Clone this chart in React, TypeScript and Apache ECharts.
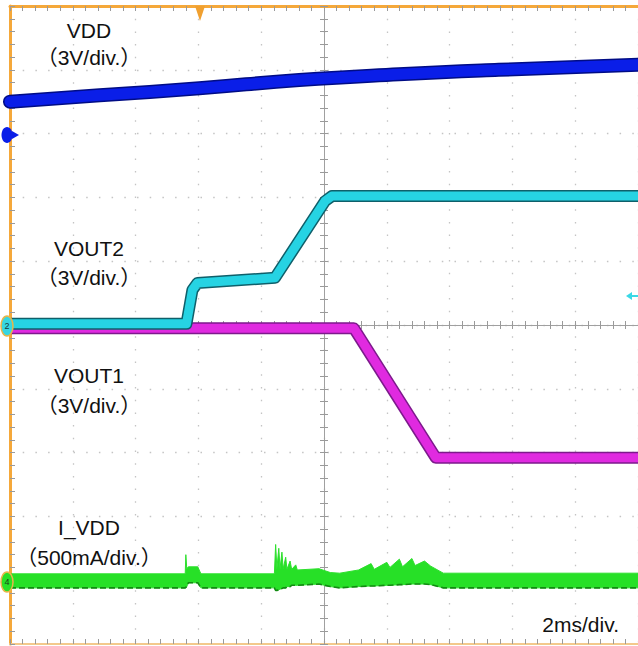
import React, { useEffect, useRef } from "react";
import * as echarts from "echarts";

// time in ms (2 ms/div, 10 divisions); amplitude in divisions from screen centre
const vddTime = [0, 2.86, 6.03, 9.21, 12.38, 15.56, 20];
const vddValue = [3.5, 3.6, 3.71, 3.84, 3.93, 4.0, 4.08];

const vout2Time = [0, 5.62, 5.81, 5.97, 8.44, 10.03, 10.25, 20];
const vout2Value = [0.02, 0.02, 0.55, 0.66, 0.74, 1.94, 2.02, 2.02];

const vout1Time = [0, 10.95, 13.56, 20];
const vout1Value = [-0.05, -0.05, -2.08, -2.08];

const ivddTime = [0, 5.58, 5.6, 5.63, 5.68, 5.98, 6.08, 8.42, 8.46, 8.5, 8.56, 8.6, 8.66, 8.7, 8.78, 8.82, 8.92, 8.97, 9.1, 9.15, 9.84, 10.2, 10.5, 11.1, 11.5, 11.6, 12.0, 12.1, 12.4, 12.5, 12.8, 12.9, 13.2, 13.4, 13.8, 20];
const ivddLower = [-4.12, -4.12, -4.12, -4.1, -4.04, -4.04, -4.12, -4.12, -4.16, -4.16, -4.15, -4.14, -4.13, -4.12, -4.12, -4.1, -4.1, -4.08, -4.08, -4.08, -4.06, -4.1, -4.12, -4.1, -4.09, -4.09, -4.08, -4.08, -4.07, -4.07, -4.06, -4.06, -4.06, -4.07, -4.12, -4.12];
const ivddUpper = [-3.9, -3.9, -3.6, -3.82, -3.79, -3.79, -3.9, -3.9, -3.44, -3.82, -3.5, -3.82, -3.56, -3.82, -3.64, -3.83, -3.7, -3.83, -3.76, -3.84, -3.82, -3.88, -3.89, -3.84, -3.74, -3.83, -3.72, -3.8, -3.67, -3.79, -3.66, -3.77, -3.7, -3.78, -3.89, -3.89];

const labels = [
  { name: "VDD", scale: "（3V/div.）" },
  { name: "VOUT2", scale: "（3V/div.）" },
  { name: "VOUT1", scale: "（3V/div.）" },
  { name: "I_VDD", scale: "（500mA/div.）" },
];
const timeScale = "2ms/div.";

const FONT = '"Liberation Sans", Arial, "Noto Sans CJK JP", sans-serif';

const zip = (xs: number[], ys: number[]) => xs.map((x, i) => [x, ys[i]]);

const tickStyle = { color: "#9a9a9a", width: 1 };
const gridDots = { color: "#c4c4c4", width: 1.3, type: [1.5, 11.2] as any };

function xAxisBase(extra: any) {
  return {
    type: "value",
    min: 0,
    max: 20,
    interval: 2,
    axisLabel: { show: false },
    splitLine: { show: false },
    axisTick: { show: true, inside: true, length: 5, lineStyle: tickStyle },
    minorTick: { show: true, splitNumber: 5, length: 5, lineStyle: tickStyle },
    ...extra,
  };
}
function yAxisBase(extra: any) {
  return {
    type: "value",
    min: -5,
    max: 5,
    interval: 1,
    axisLabel: { show: false },
    splitLine: { show: false },
    axisTick: { show: true, inside: true, length: 5, lineStyle: tickStyle },
    minorTick: { show: true, splitNumber: 5, length: 5, lineStyle: tickStyle },
    ...extra,
  };
}

function band(data: number[][], color: string, dark: string, w: number, smooth = false) {
  return [
    {
      type: "line",
      data,
      symbol: "none",
      smooth,
      lineStyle: { color: dark, width: w + 3, join: "round", cap: "round" },
      silent: true,
    },
    {
      type: "line",
      data,
      symbol: "none",
      smooth,
      lineStyle: { color, width: w, join: "round", cap: "round" },
      silent: true,
    },
  ];
}

export default function App() {
  const ref = useRef<HTMLDivElement>(null);
  useEffect(() => {
    document.body.style.margin = "0";
    const chart = echarts.init(ref.current!, null, { renderer: "svg" });
    const option: any = {
      animation: false,
      backgroundColor: "#ffffff",
      grid: { left: 10, top: 6, width: 630, height: 638, containLabel: false },
      xAxis: [
        xAxisBase({
          position: "bottom",
          axisLine: { show: true, onZero: false, lineStyle: { color: "#f3c98c", width: 2 } },
          splitLine: { show: true, showMinLine: false, lineStyle: gridDots },
        }),
        xAxisBase({
          position: "top",
          axisLine: { show: true, onZero: false, lineStyle: { color: "#f5a83a", width: 3 } },
        }),
        xAxisBase({
          position: "bottom",
          axisLine: { show: true, onZero: true, onZeroAxisIndex: 0, lineStyle: { color: "#a0a0a0", width: 1 } },
          axisTick: { show: true, inside: true, length: 4, lineStyle: tickStyle },
          minorTick: { show: true, splitNumber: 5, length: 4, lineStyle: tickStyle },
        }),
        xAxisBase({
          position: "top",
          axisLine: { show: true, onZero: true, onZeroAxisIndex: 0, lineStyle: { color: "#a0a0a0", width: 1 } },
          axisTick: { show: true, inside: true, length: 4, lineStyle: tickStyle },
          minorTick: { show: true, splitNumber: 5, length: 4, lineStyle: tickStyle },
        }),
        { type: "value", min: -10, max: 10, interval: 2, show: false },
      ],
      yAxis: [
        yAxisBase({
          position: "left",
          axisLine: { show: true, onZero: false, lineStyle: { color: "#f5a83a", width: 3 } },
          splitLine: { show: true, showMinLine: false, showMaxLine: false, lineStyle: gridDots },
        }),
        yAxisBase({
          position: "left",
          axisLine: { show: true, onZero: true, onZeroAxisIndex: 4, lineStyle: { color: "#a0a0a0", width: 1 } },
          axisTick: { show: true, inside: true, length: 4, lineStyle: tickStyle },
          minorTick: { show: true, splitNumber: 5, length: 4, lineStyle: tickStyle },
        }),
        yAxisBase({
          position: "right",
          axisLine: { show: true, onZero: true, onZeroAxisIndex: 4, lineStyle: { color: "#a0a0a0", width: 1 } },
          axisTick: { show: true, inside: true, length: 4, lineStyle: tickStyle },
          minorTick: { show: true, splitNumber: 5, length: 4, lineStyle: tickStyle },
        }),
      ],
      series: [
        ...band(zip(vout1Time, vout1Value), "#e02ae0", "#7d1a8c", 9),
        ...band(zip(vout2Time, vout2Value), "#26d3e3", "#0f5f6a", 9),
        ...band(zip(vddTime, vddValue), "#0a1ee8", "#000c85", 11, true),
        {
          type: "custom",
          data: ivddTime.map((t, i) => [t, ivddLower[i], ivddUpper[i]]),
          encode: { x: 0, y: [1, 2] },
          clip: true,
          silent: true,
          renderItem: (params: any, api: any) => {
            if (params.dataIndex !== 0) return null;
            const top = ivddTime.map((t, i) => api.coord([t, ivddUpper[i]]));
            const bottom = ivddTime.map((t, i) => api.coord([t, ivddLower[i]])).reverse();
            return {
              type: "polygon",
              shape: { points: top.concat(bottom) },
              style: { fill: "#27e027", stroke: "#2ee02e", lineWidth: 1 },
            };
          },
        },
        {
          type: "line",
          data: zip(ivddTime, ivddLower),
          symbol: "none",
          lineStyle: { color: "#138a13", width: 1.6, type: [6, 3] },
          silent: true,
        },
      ],
      graphic: [
        // channel markers
        { type: "ellipse", shape: { cx: 7, cy: 135, rx: 5.5, ry: 8 }, style: { fill: "#0a1ee8" }, z: 100 },
        { type: "polygon", shape: { points: [[12, 131], [19, 135], [12, 139]] }, style: { fill: "#0a1ee8" }, z: 100 },
        { type: "ellipse", shape: { cx: 7, cy: 326, rx: 6, ry: 10 }, style: { fill: "#36d6e2", stroke: "#e8b54a", lineWidth: 1.5 }, z: 100 },
        { type: "text", x: 7, y: 326, style: { text: "2", fontSize: 9, fill: "#1a3a40", align: "center", verticalAlign: "middle", fontFamily: FONT }, z: 101 },
        { type: "ellipse", shape: { cx: 7, cy: 582, rx: 6, ry: 10 }, style: { fill: "#27e027", stroke: "#e8b54a", lineWidth: 1.5 }, z: 100 },
        { type: "text", x: 7, y: 582, style: { text: "4", fontSize: 9, fill: "#1a401a", align: "center", verticalAlign: "middle", fontFamily: FONT }, z: 101 },
        // trigger position
        { type: "polygon", shape: { points: [[195, 6], [205, 6], [200, 21]] }, style: { fill: "#f0a030" }, z: 100 },
        // trigger level arrow
        { type: "line", shape: { x1: 629, y1: 296, x2: 638, y2: 296 }, style: { stroke: "#3ad8e6", lineWidth: 2 }, z: 100 },
        { type: "polygon", shape: { points: [[626, 296], [632, 292], [632, 300]] }, style: { fill: "#3ad8e6" }, z: 100 },
        // labels
        ...[
          [30, 57],
          [248, 277],
          [375, 405],
          [527, 557],
        ].flatMap(([y1, y2], i) => [
          { type: "text", x: 89, y: y1, style: { text: labels[i].name, font: `21px ${FONT}`, fill: "#111", align: "center", verticalAlign: "middle" }, z: 110 },
          { type: "text", x: 89, y: y2, style: { text: labels[i].scale, font: `21px ${FONT}`, fill: "#111", align: "center", verticalAlign: "middle" }, z: 110 },
        ]),
        { type: "text", x: 619, y: 624, style: { text: timeScale, font: `21px ${FONT}`, fill: "#111", align: "right", verticalAlign: "middle" }, z: 110 },
      ],
    };
    chart.setOption(option);
    return () => chart.dispose();
  }, []);
  return <div ref={ref} style={{ width: 638, height: 646, background: "#fff" }} />;
}
